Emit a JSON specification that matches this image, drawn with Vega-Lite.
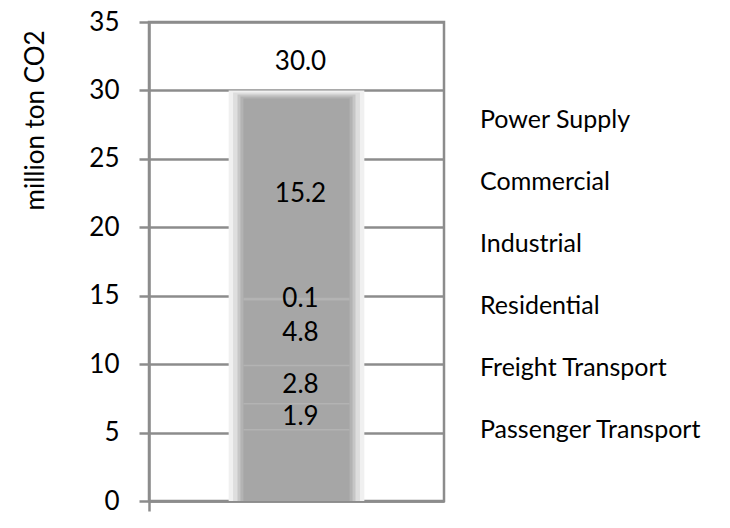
{
  "$schema": "https://vega.github.io/schema/vega-lite/v6.json",
  "autosize": "none",
  "width": 295,
  "height": 479,
  "padding": {"left": 149, "top": 22, "right": 286, "bottom": 27},
  "background": "white",
  "config": {
    "font": "Lato",
    "view": {"stroke": "#8c8c8c", "strokeWidth": 2.5},
    "axis": {
      "labelFont": "Lato",
      "labelColor": "#000000",
      "titleFont": "Lato",
      "titleColor": "#000000",
      "domainColor": "#8c8c8c",
      "domainWidth": 2.5,
      "tickColor": "#8c8c8c",
      "tickWidth": 2.5,
      "gridColor": "#8c8c8c",
      "gridWidth": 2.5,
      "gridOpacity": 1
    },
    "legend": {
      "orient": "none",
      "legendX": 306,
      "legendY": 85,
      "padding": 0,
      "symbolSize": 0,
      "symbolOpacity": 0,
      "symbolStrokeWidth": 0,
      "labelOffset": 0,
      "labelFont": "Lato",
      "labelFontSize": 25,
      "labelColor": "#000000",
      "rowPadding": 36,
      "labelLimit": 300
    }
  },
  "data": {
    "values": [
      {"scenario": "Total", "sector": "Passenger Transport", "value": 5.2},
      {"scenario": "Total", "sector": "Freight Transport", "value": 1.9},
      {"scenario": "Total", "sector": "Residential", "value": 2.8},
      {"scenario": "Total", "sector": "Industrial", "value": 4.8},
      {"scenario": "Total", "sector": "Commercial", "value": 0.1},
      {"scenario": "Total", "sector": "Power Supply", "value": 15.2}
    ]
  },
  "encoding": {
    "x": {
      "field": "scenario",
      "type": "nominal",
      "scale": {"paddingInner": 0, "paddingOuter": 0},
      "axis": {"title": null, "labels": false, "ticks": true, "tickSize": 10, "bandPosition": 0, "domain": true}
    }
  },
  "layer": [
    {
      "mark": {"type": "bar", "color": "#f0f0f0", "width": {"band": 0.46}},
      "encoding": {
        "y": {
          "aggregate": "sum", "field": "value", "type": "quantitative",
          "scale": {"domain": [0, 35], "nice": false},
          "axis": {
            "values": [0, 5, 10, 15, 20, 25, 30, 35],
            "grid": true,
            "tickSize": 10,
            "labelPadding": 20,
            "labelFontSize": 26,
            "title": "million ton CO2",
            "titleFontSize": 26,
            "titleFontWeight": "normal",
            "titleAngle": -90,
            "titleAlign": "left",
            "titleBaseline": "middle",
            "titleX": -114,
            "titleY": 188
          }
        }
      }
    },
    {
      "mark": {"type": "bar", "color": "#dedede", "width": {"band": 0.43}, "yOffset": 2},
      "encoding": {"y": {"aggregate": "sum", "field": "value", "type": "quantitative"}}
    },
    {
      "mark": {"type": "bar", "color": "#c6c6c6", "width": {"band": 0.40}, "yOffset": 4},
      "encoding": {"y": {"aggregate": "sum", "field": "value", "type": "quantitative"}}
    },
    {
      "mark": {"type": "bar", "color": "#b3b3b3", "width": {"band": 0.38}, "yOffset": 6},
      "encoding": {"y": {"aggregate": "sum", "field": "value", "type": "quantitative"}}
    },
    {
      "mark": {"type": "bar", "color": "#a6a6a6", "width": {"band": 0.36}, "yOffset": 8},
      "encoding": {"y": {"aggregate": "sum", "field": "value", "type": "quantitative"}}
    },
    {
      "transform": [
        {"stack": "value", "groupby": ["scenario"], "as": ["y0", "y1"]},
        {"filter": "datum.sector !== 'Power Supply'"}
      ],
      "mark": {"type": "tick", "orient": "horizontal", "size": 106, "thickness": 1.5, "opacity": 0.6},
      "encoding": {
        "y": {"field": "y1", "type": "quantitative"},
        "color": {
          "field": "sector",
          "type": "nominal",
          "title": null,
          "scale": {
            "domain": ["Power Supply", "Commercial", "Industrial", "Residential", "Freight Transport", "Passenger Transport"],
            "range": ["#bdbdbd", "#bdbdbd", "#bdbdbd", "#bdbdbd", "#bdbdbd", "#bdbdbd"]
          }
        }
      }
    },
    {
      "transform": [
        {"stack": "value", "groupby": ["scenario"], "as": ["y0", "y1"]},
        {"calculate": "(datum.y0 + datum.y1) / 2", "as": "mid"},
        {"filter": "datum.sector !== 'Passenger Transport'"}
      ],
      "mark": {"type": "text", "fontSize": 26, "font": "Lato", "color": "#000000", "baseline": "middle", "align": "center", "dx": 4},
      "encoding": {
        "y": {"field": "mid", "type": "quantitative"},
        "text": {"field": "value", "type": "quantitative", "format": ".1f"}
      }
    },
    {
      "mark": {"type": "text", "fontSize": 26, "font": "Lato", "color": "#000000", "baseline": "middle", "align": "center", "dy": -28, "dx": 4},
      "encoding": {
        "y": {"aggregate": "sum", "field": "value", "type": "quantitative"},
        "text": {"aggregate": "sum", "field": "value", "type": "quantitative", "format": ".1f"}
      }
    }
  ]
}
